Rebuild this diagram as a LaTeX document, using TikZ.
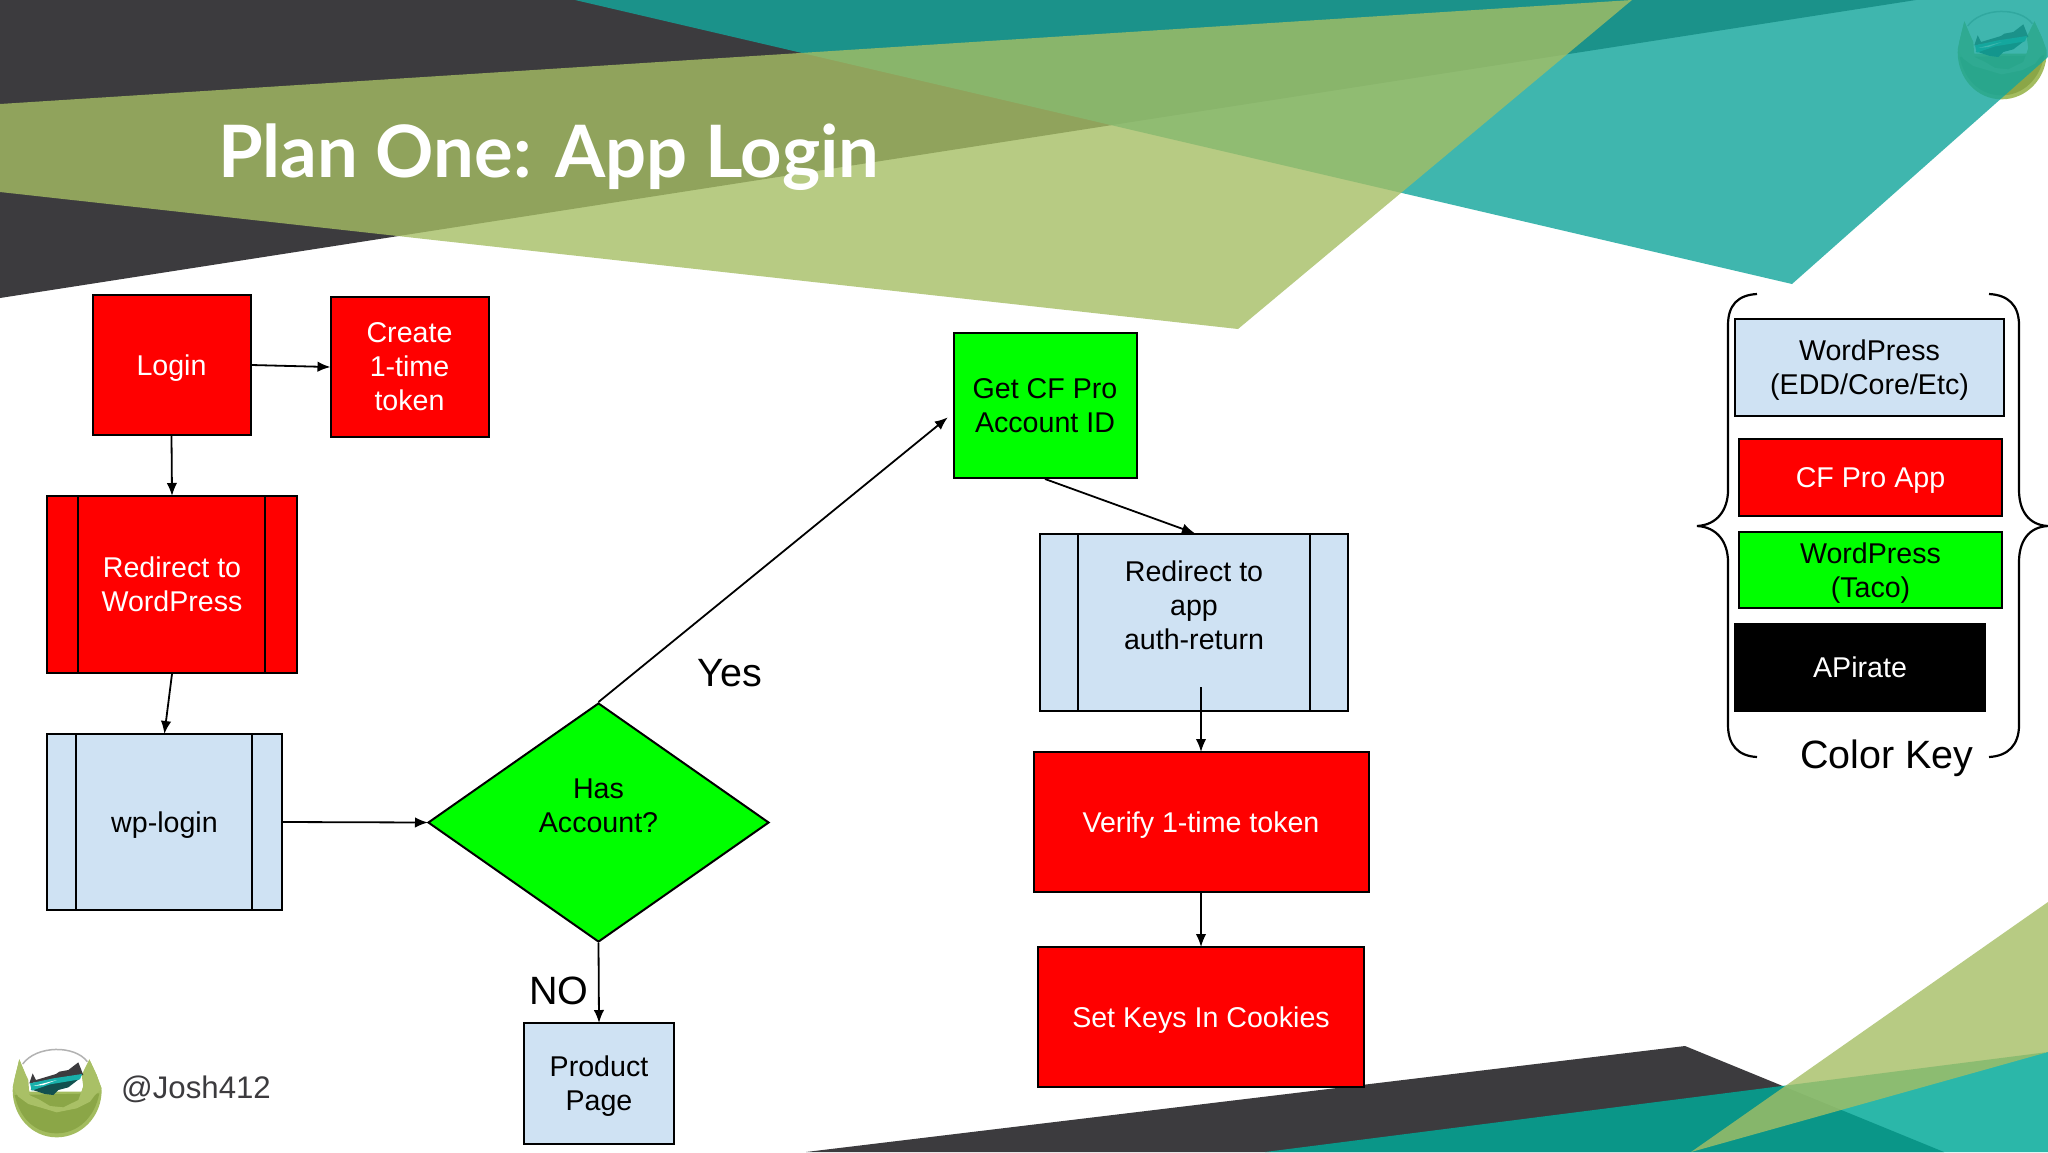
\documentclass[tikz,border=0pt]{standalone}
\usepackage{fontspec}
\setmainfont{Liberation Sans}
\newfontfamily\titlefont{Lato}
\usetikzlibrary{arrows.meta,shapes.geometric}
\definecolor{cdark}{RGB}{60,59,62}
\definecolor{cteal}{RGB}{20,166,156}
\definecolor{cteallow}{RGB}{0,169,152}
\definecolor{colive}{RGB}{165,190,100}
\definecolor{cblue}{RGB}{207,226,243}
\definecolor{cred}{RGB}{255,0,0}
\definecolor{cgreen}{RGB}{0,255,0}
\definecolor{lring}{RGB}{163,188,95}
\definecolor{ldisc}{RGB}{139,166,71}
\definecolor{lhill}{RGB}{169,192,102}
\definecolor{lwater}{RGB}{18,80,79}
\definecolor{lstripe}{RGB}{24,176,170}
\newcommand{\drawlogo}[2]{%
  \begin{scope}[shift={(#1,#2)},scale=1/3]
    \draw[gray!60,line width=1.5pt] (68,192) .. controls (110,135) and (225,135) .. (262,185);
    \fill[lring] (58,178) -- (72,215) -- (88,275) -- (245,275) -- (262,215) -- (268,178) -- (290,225) -- (305,270)
      .. controls (305,350) and (244,412) .. (170,412)
      .. controls (96,412) and (38,350) .. (38,270) -- (44,235) -- cycle;
    \fill[ldisc] (44,285) .. controls (60,360) and (110,400) .. (170,400)
      .. controls (235,400) and (285,350) .. (298,280) -- cycle;
    \fill[lhill] (58,178) -- (78,225) -- (85,240) -- (88,285) -- (120,300) -- (150,318)
      -- (190,322) -- (235,300) -- (250,260) -- (245,225) -- (268,178) -- (290,225)
      -- (305,265) -- (285,285) -- (270,305) -- (230,325) -- (170,337) -- (120,322)
      -- (85,312) -- (55,290) -- (38,262) -- (44,235) -- cycle;
    \fill[cdark] (88,250) -- (98,220) -- (108,240) -- (168,222) -- (178,215) -- (205,210)
      -- (235,187) -- (250,225) -- cycle;
    \fill[lwater] (92,268) -- (135,282) -- (160,285) -- (175,270) -- (205,262) -- (240,235) -- (150,245) -- cycle;
    \fill[lstripe] (90,250) -- (160,235) -- (246,222) -- (240,238) -- (150,253) -- (95,272) -- cycle;
    \fill[white] (100,258) -- (170,240) -- (130,255) -- cycle;
  \end{scope}}
\tikzset{
  base/.style={draw=black,line width=2pt,inner sep=0pt,align=center,
    font=\fontsize{28.6}{34}\selectfont},
  redbox/.style={base,fill=cred,text=white},
  greenbox/.style={base,fill=cgreen,text=black},
  bluebox/.style={base,fill=cblue,text=black},
  blackbox/.style={base,fill=black,text=white,draw=none},
  drop/.style={text depth=0pt},
  droplittle/.style={text depth=-3pt},
  link/.style={draw=black,line width=1.8pt,shorten >=-1pt,-{Latex[length=13pt,width=10.5pt]}},
  inner/.style={draw=black,line width=2pt},
  brace/.style={draw=black,line width=2.2pt},
  biglabel/.style={font=\fontsize{39.5}{46}\selectfont,text=black},
}
\begin{document}
\begin{tikzpicture}[x=1pt,y=-1pt]
\useasboundingbox (0,0) rectangle (2048,1152);
\fill[white] (0,0) rectangle (2048,1152);
% logos
\drawlogo{1945}{-38}
\drawlogo{0}{1000}
% top decoration
\fill[cdark] (0,0) -- (1916,0) -- (0,298) -- cycle;
\fill[cteal,fill opacity=.815] (575,0) -- (2048,0) -- (2048,57) -- (1792,284) -- cycle;
\fill[colive,fill opacity=.8] (0,104) -- (1632,0) -- (1238,329) -- (0,192) -- cycle;
% bottom decoration
\fill[cdark] (806,1152) -- (1685,1046) -- (1944,1152) -- cycle;
\fill[cteallow,fill opacity=.83] (1265,1152) -- (2048,1052) -- (2048,1152) -- cycle;
\fill[colive,fill opacity=.8] (1691,1152) -- (2048,902) -- (2048,1052) -- cycle;
% title and handle
\node[anchor=base west,inner sep=0pt,text=white,font=\titlefont\bfseries\fontsize{72.3}{80}\selectfont] (title) at (218,177) {Plan One: App Login};
\node[anchor=base west,inner sep=0pt,text=cdark,font=\fontsize{31.2}{36}\selectfont] (handle) at (121,1098) {@Josh412};
% flow nodes
\node[redbox,drop,minimum width=158pt,minimum height=140pt] (login) at (171.5,365) {Login};
\node[redbox,droplittle,minimum width=158pt,minimum height=140pt] (create) at (409.5,367) {Create\\1-time\\token};
\node[redbox,minimum width=250pt,minimum height=177pt] (rwp) at (172,584.5) {Redirect to\\WordPress};
\node[bluebox,drop,minimum width=235pt,minimum height=176pt] (wplogin) at (164.5,822) {wp-login};
\node[diamond,greenbox,minimum width=341pt,minimum height=239pt] (has) at (598.5,822.5) {Has\\Account?\\\mbox{}};
\node[bluebox,drop,minimum width=150pt,minimum height=121pt] (product) at (599,1083.5) {Product\\Page};
\node[greenbox,minimum width=183pt,minimum height=145pt] (cfid) at (1045,405.5) {Get CF Pro\\Account ID};
\node[bluebox,minimum width=308pt,minimum height=177pt] (rapp) at (1194,622.5) {Redirect to\\app\\auth-return\\\mbox{}};
\node[redbox,drop,minimum width=335pt,minimum height=140pt] (verify) at (1201,822) {Verify 1-time token};
\node[redbox,drop,minimum width=326pt,minimum height=140pt] (keys) at (1201,1017) {Set Keys In Cookies};
% inner bars
\draw[inner] ([xshift=32pt]rwp.north west) -- ([xshift=32pt]rwp.south west);
\draw[inner] ([xshift=-33pt]rwp.north east) -- ([xshift=-33pt]rwp.south east);
\draw[inner] ([xshift=30pt]wplogin.north west) -- ([xshift=30pt]wplogin.south west);
\draw[inner] ([xshift=-31pt]wplogin.north east) -- ([xshift=-31pt]wplogin.south east);
\draw[inner] ([xshift=39pt]rapp.north west) -- ([xshift=39pt]rapp.south west);
\draw[inner] ([xshift=-39pt]rapp.north east) -- ([xshift=-39pt]rapp.south east);
% connectors
\coordinate (yesend) at (947,418);
\coordinate (rappout) at (1201,687);
\draw[link] (login.east) -- (create.west);
\draw[link] (login.south) -- (rwp.north);
\draw[link] (rwp.south) -- (wplogin.north);
\draw[link] (wplogin.east) -- (has.west);
\draw[link] (has.north) -- (yesend);
\draw[link] (has.south) -- (product.north);
\draw[link] (cfid.south) -- (rapp.north);
\draw[link] (rappout) -- (verify.north);
\draw[link] (verify.south) -- (keys.north);
\node[biglabel] (yes) at (730,673) {Yes};
\node[biglabel] (no) at (559,991) {NO};
% colour key
\node[bluebox,drop,minimum width=269pt,minimum height=97pt] (kwp) at (1869.5,367.5) {WordPress\\(EDD/Core/Etc)};
\node[redbox,drop,minimum width=263pt,minimum height=77pt] (kcf) at (1870.5,477.5) {CF Pro App};
\node[greenbox,drop,minimum width=263pt,minimum height=76pt] (ktaco) at (1870.5,570) {WordPress\\(Taco)};
\node[blackbox,droplittle,minimum width=252pt,minimum height=89pt] (kapi) at (1860,667.5) {APirate};
\draw[brace] (1757,294) .. controls (1738,295) and (1728,305) .. (1728,325) -- (1728,490)
  .. controls (1728,510) and (1717,525) .. (1697,526)
  .. controls (1717,527) and (1728,542) .. (1728,562) -- (1728,725)
  .. controls (1728,745) and (1738,756) .. (1757,757);
\draw[brace] (1989,294) .. controls (2008,295) and (2019,305) .. (2019,325) -- (2019,490)
  .. controls (2019,510) and (2028,525) .. (2048,526)
  .. controls (2028,527) and (2019,542) .. (2019,562) -- (2019,725)
  .. controls (2019,745) and (2008,756) .. (1989,757);
\node[biglabel,anchor=base] (ckey) at (1887,768) {Color Key};
\end{tikzpicture}
\end{document}
